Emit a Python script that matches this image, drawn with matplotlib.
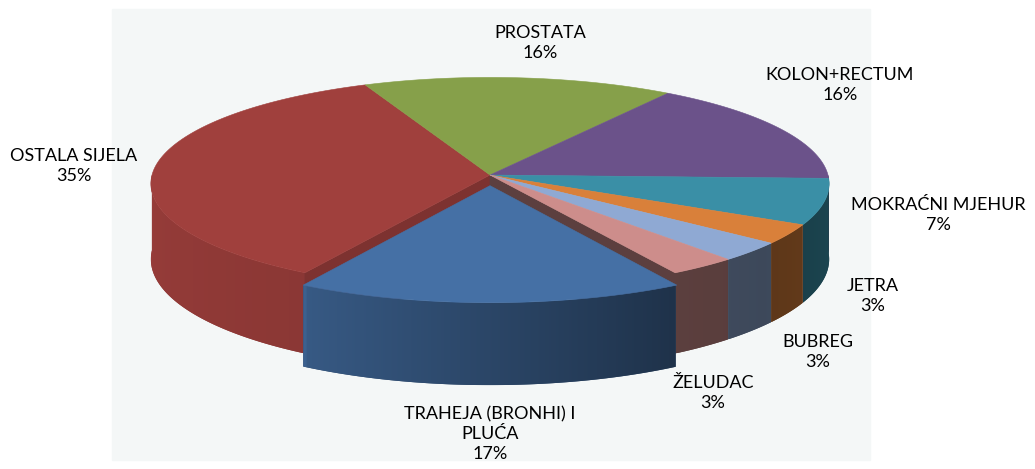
import numpy as np
import matplotlib.pyplot as plt
from matplotlib.patches import Polygon, Rectangle
from matplotlib.colors import to_rgb

# data, in the order the pie goes round (clockwise)
names = ['TRAHEJA (BRONHI) I\nPLUĆA', 'OSTALA SIJELA', 'PROSTATA', 'KOLON+RECTUM',
         'MOKRAĆNI MJEHUR', 'JETRA', 'BUBREG', 'ŽELUDAC']
shares = [17, 35, 16, 16, 7, 3, 3, 3]
explode = [0.1, 0, 0, 0, 0, 0, 0, 0]
colors = ['#4570A5', '#A0403D', '#86A04A', '#6B528A',
          '#3A8FA6', '#D9803A', '#8FA9D3', '#CD8D8B']

# label anchors (pixels)
label_xy = [(490, 434), (74, 166), (540, 43), (840, 85),
            (938, 215), (873, 296), (818, 352), (713, 393)]

# pie geometry in pixels, with a little perspective
cx, cy, rx, ry, persp, depth = 490, 175, 338, 105.6, 0.082, 75

# how dark the side wall gets, by angle round the pie
shade_ang = [180, 240, 240.01, 300, 320, 360]
shade_val = [0.95, 0.87, 0.80, 0.45, 0.43, 0.50]


def proj(x, y, z=0.0):
    s = 1.0 / (1.0 + persp * y)
    return cx + rx * x * s, cy - ry * y * s + depth * z * s


def wall_shade(t):
    return np.interp(np.mod(t, 360), shade_ang, shade_val)


def darker(c, f):
    return tuple(min(1, v * f) for v in to_rgb(c))


fig = plt.figure(figsize=(10.35, 4.69), dpi=100)
ax = fig.add_axes([0, 0, 1, 1])
ax.add_patch(Rectangle((112, 9), 758, 451, color='#F4F7F7', zorder=0))

total = float(sum(shares))
start = 270 + shares[0] / total * 180
cum = np.concatenate([[0], np.cumsum(shares)])
th_hi = start - 360 * cum[:-1] / total
th_lo = start - 360 * cum[1:] / total


def draw_wall(i, ox, oy, z0):
    ts = np.arange(th_lo[i], th_hi[i] + 0.001, 0.25)
    ts = ts[np.sin(np.radians(ts)) < 0.001]
    if len(ts) < 2:
        return
    rs = np.radians(ts)
    top = [proj(ox + np.cos(r), oy + np.sin(r), 0) for r in rs]
    bot = [proj(ox + np.cos(r), oy + np.sin(r), 1) for r in rs]
    pts = top + bot[::-1]
    xs = np.array([p[0] for p in top])
    shade = wall_shade(ts)
    order = np.argsort(xs)
    x0, x1 = xs.min(), xs.max()
    ys = [p[1] for p in pts]
    grid = np.linspace(x0, x1, max(int(x1 - x0) * 2, 2))
    f = np.interp(grid, xs[order], shade[order])
    base = np.array(to_rgb(colors[i]))
    img = np.clip(f[None, :, None] * base[None, None, :], 0, 1)
    mean_c = darker(colors[i], float(f.mean()))
    ax.add_patch(Polygon(pts, closed=True, fc=mean_c, ec='none', zorder=z0))
    im = ax.imshow(img, extent=(x0, x1, max(ys), min(ys)), aspect='auto',
                   interpolation='bilinear', zorder=z0 + 0.5)
    im.set_clip_path(Polygon(pts, closed=True, transform=ax.transData))


def draw_slice(i, z0):
    lo, hi = th_lo[i], th_hi[i]
    mid = np.radians((lo + hi) / 2)
    ox, oy = explode[i] * np.cos(mid), explode[i] * np.sin(mid)
    draw_wall(i, ox, oy, z0)
    # cut faces beside an exploded neighbour
    n = len(shares)
    for edge, nb, sign in ((hi, (i - 1) % n, 1), (lo, (i + 1) % n, -1)):
        if explode[i] == 0 and explode[nb] == 0:
            continue
        r = np.radians(edge)
        normal = r + sign * np.pi / 2
        if np.sin(normal) >= 0:
            continue
        f = 0.78 if np.cos(normal) > 0 else 0.45
        pts = [proj(ox, oy, 0), proj(ox + np.cos(r), oy + np.sin(r), 0),
               proj(ox + np.cos(r), oy + np.sin(r), 1), proj(ox, oy, 1)]
        c = darker(colors[i], f)
        ax.add_patch(Polygon(pts, closed=True, fc=c, ec=c, lw=0.4, zorder=z0 + 1))
    # top face
    rs = np.radians(np.linspace(lo, hi, max(int(hi - lo) * 2, 4)))
    pts = [proj(ox, oy)] + [proj(ox + np.cos(r), oy + np.sin(r)) for r in rs]
    ax.add_patch(Polygon(pts, closed=True, fc=colors[i], ec=colors[i], lw=0.4, zorder=z0 + 2))


for i in range(len(shares)):
    if explode[i] == 0:
        draw_slice(i, 2)
for i in range(len(shares)):
    if explode[i] != 0:
        draw_slice(i, 6)

for name, v, (x, y) in zip(names, shares, label_xy):
    ax.text(x, y, f'{name}\n{v}%', ha='center', va='center', fontsize=13,
            family=['Lato', 'DejaVu Sans'], color='black', linespacing=1.27, zorder=10)

ax.set_xlim(0, 1035)
ax.set_ylim(469, 0)
ax.axis('off')
fig.savefig('out.png', dpi=100)
